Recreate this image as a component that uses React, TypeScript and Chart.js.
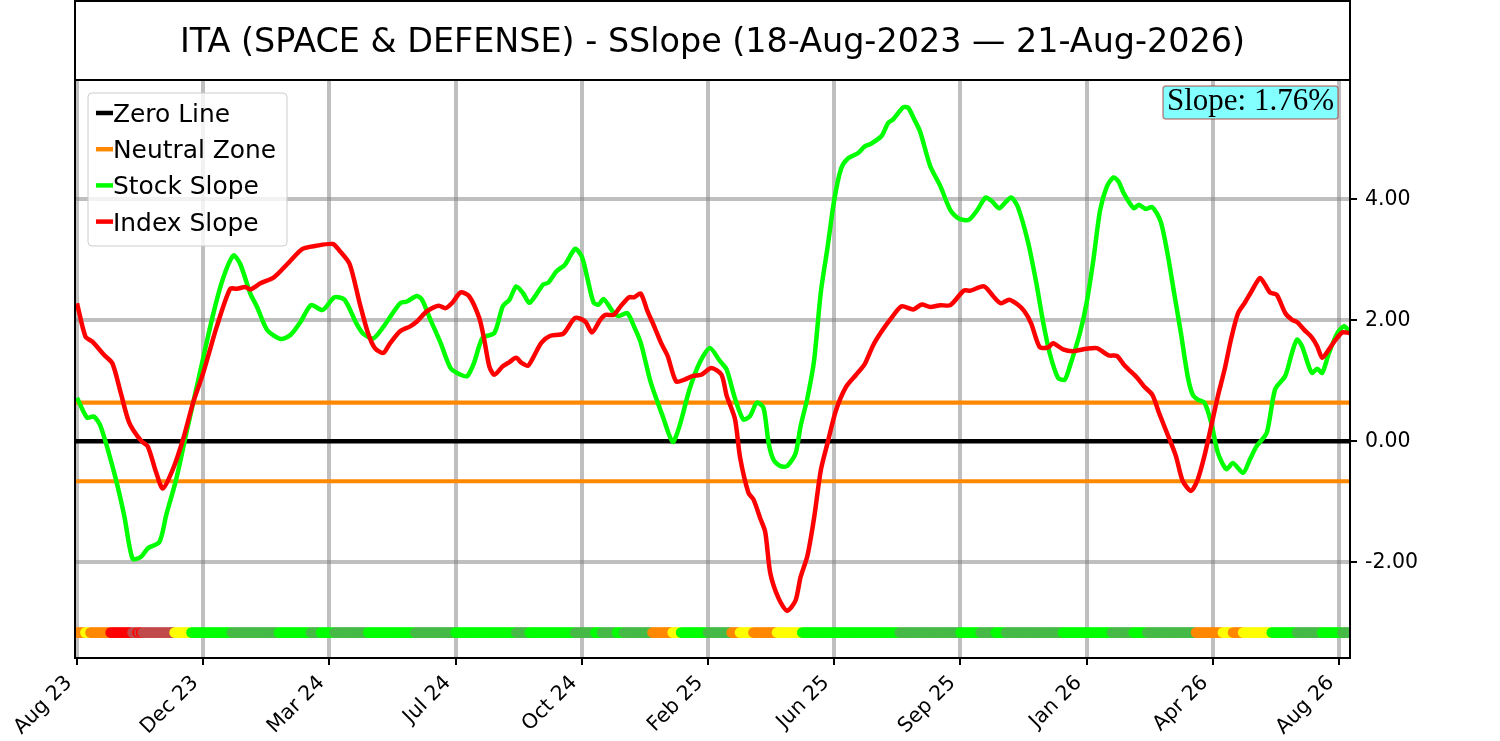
import { useEffect, useRef } from "react"
import { Chart, registerables, type ChartConfiguration, type Plugin } from "chart.js"

Chart.register(...registerables)

const TITLE = "ITA (SPACE & DEFENSE) - SSlope (18-Aug-2023 — 21-Aug-2026)"
const SLOPE_TEXT = "Slope: 1.76%"

// x axis is in trading days since 18-Aug-2023
const TICK_DAYS = [0, 75, 150, 225, 300, 375, 450, 525, 600, 675, 750]
const TICK_LABELS = ["Aug 23", "Dec 23", "Mar 24", "Jul 24", "Oct 24", "Feb 25", "Jun 25", "Sep 25", "Jan 26", "Apr 26", "Aug 26"]
const Y_TICKS = [-2, 0, 2, 4]
const LAST_DAY = 756

const NEUTRAL_HIGH = 0.64
const NEUTRAL_LOW = -0.66
const STATE_BAND_LEVEL = -3.16

const STOCK_DAYS = [
  0, 6, 10, 14, 22, 28, 33, 38, 42, 49, 53, 59, 65, 73, 81, 87, 93, 97, 103, 107, 113, 121, 127, 133, 139, 146, 153, 159,
  166, 170, 176, 182, 192, 196, 202, 205, 210, 216, 222, 228, 232, 236, 241, 248, 253, 257, 261, 265, 269, 277, 280, 285,
  290, 296, 300, 303, 307, 310, 313, 319, 322, 327, 331, 335, 341, 348, 354, 358, 364, 370, 376, 382, 386, 391, 396, 400,
  404, 408, 411, 414, 418, 422, 427, 430, 434, 438, 442, 446, 450, 454, 458, 464, 468, 472, 478, 482, 485, 491, 494, 497,
  501, 507, 513, 519, 524, 530, 535, 540, 544, 548, 555, 559, 565, 570, 574, 578, 583, 587, 590, 596, 600, 604, 608, 612,
  616, 619, 622, 628, 631, 635, 639, 644, 648, 652, 656, 660, 663, 666, 670, 674, 678, 683, 687, 693, 697, 701, 707, 712,
  718, 722, 725, 728, 732, 734, 737, 740, 744, 749, 753, 756,
]
const STOCK_SLOPE = [
  0.72, 0.39, 0.41, 0.25, -0.51, -1.22, -1.94, -1.91, -1.77, -1.66, -1.22, -0.62, 0.14, 1.13, 2.11, 2.71, 3.07, 2.93, 2.44,
  2.22, 1.84, 1.69, 1.76, 1.98, 2.25, 2.17, 2.38, 2.34, 1.95, 1.78, 1.7, 1.89, 2.28, 2.31, 2.4, 2.34, 2.01, 1.63, 1.21, 1.1,
  1.08, 1.3, 1.71, 1.79, 2.23, 2.34, 2.56, 2.45, 2.29, 2.59, 2.62, 2.81, 2.92, 3.18, 3.05, 2.73, 2.29, 2.26, 2.35, 2.12, 2.07,
  2.12, 1.9, 1.63, 0.97, 0.42, -0.01, 0.25, 0.86, 1.3, 1.54, 1.33, 1.19, 0.71, 0.36, 0.42, 0.64, 0.55, -0.03, -0.31, -0.41,
  -0.41, -0.2, 0.25, 0.71, 1.33, 2.46, 3.2, 3.99, 4.5, 4.67, 4.76, 4.87, 4.92, 5.04, 5.26, 5.32, 5.52, 5.51, 5.35, 5.12, 4.55,
  4.22, 3.82, 3.68, 3.66, 3.82, 4.03, 3.96, 3.85, 4.03, 3.88, 3.31, 2.63, 1.99, 1.46, 1.05, 1.02, 1.24, 1.79, 2.29, 3.0, 3.82,
  4.21, 4.36, 4.29, 4.1, 3.85, 3.91, 3.84, 3.87, 3.63, 3.11, 2.45, 1.79, 1.08, 0.77, 0.69, 0.64, 0.31, -0.19, -0.46, -0.36,
  -0.52, -0.3, -0.08, 0.14, 0.86, 1.08, 1.46, 1.68, 1.57, 1.24, 1.13, 1.2, 1.13, 1.46, 1.79, 1.9, 1.82,
]

const INDEX_DAYS = [
  0, 5, 9, 16, 21, 26, 31, 38, 42, 47, 51, 57, 63, 69, 75, 83, 91, 95, 100, 103, 109, 117, 125, 134, 142, 152, 156, 162,
  168, 173, 177, 182, 186, 192, 198, 202, 208, 215, 219, 223, 228, 233, 239, 242, 245, 248, 253, 257, 261, 264, 268, 271,
  276, 281, 289, 296, 302, 306, 311, 314, 319, 323, 328, 331, 335, 339, 343, 347, 351, 356, 361, 366, 371, 377, 383, 386,
  391, 394, 399, 402, 406, 409, 412, 417, 422, 427, 430, 434, 438, 442, 446, 451, 457, 463, 468, 473, 478, 484, 490, 497,
  502, 507, 513, 519, 527, 531, 539, 545, 549, 554, 559, 563, 567, 572, 577, 580, 586, 592, 600, 606, 613, 618, 622, 626,
  630, 634, 639, 643, 648, 653, 657, 662, 666, 670, 674, 678, 682, 686, 690, 694, 698, 703, 706, 709, 713, 718, 722, 725,
  729, 734, 737, 740, 744, 748, 752, 756,
]
const INDEX_SLOPE = [
  2.28, 1.73, 1.65, 1.43, 1.29, 0.8, 0.31, 0.01, -0.08, -0.51, -0.78, -0.46, 0.03, 0.64, 1.13, 1.89, 2.52, 2.52, 2.55, 2.51,
  2.61, 2.71, 2.93, 3.18, 3.23, 3.26, 3.15, 2.93, 2.28, 1.78, 1.54, 1.46, 1.62, 1.82, 1.9, 1.98, 2.15, 2.24, 2.2, 2.29, 2.46,
  2.4, 2.04, 1.68, 1.24, 1.1, 1.24, 1.31, 1.38, 1.3, 1.25, 1.38, 1.63, 1.74, 1.78, 2.04, 1.98, 1.8, 2.01, 2.09, 2.09, 2.23,
  2.38, 2.38, 2.44, 2.15, 1.9, 1.63, 1.41, 0.99, 1.02, 1.08, 1.1, 1.21, 1.1, 0.76, 0.37, -0.26, -0.85, -0.96, -1.27, -1.5,
  -2.18, -2.6, -2.8, -2.63, -2.24, -1.9, -1.27, -0.48, -0.03, 0.51, 0.9, 1.1, 1.27, 1.58, 1.81, 2.04, 2.23, 2.18, 2.26, 2.22,
  2.25, 2.25, 2.49, 2.49, 2.56, 2.38, 2.28, 2.34, 2.26, 2.15, 1.95, 1.56, 1.55, 1.62, 1.52, 1.49, 1.53, 1.54, 1.42, 1.41,
  1.27, 1.16, 1.05, 0.91, 0.77, 0.47, 0.12, -0.24, -0.65, -0.82, -0.63, -0.24, 0.25, 0.75, 1.19, 1.71, 2.12, 2.29, 2.48, 2.7,
  2.59, 2.46, 2.42, 2.12, 2.01, 1.97, 1.85, 1.71, 1.57, 1.38, 1.52, 1.68, 1.8, 1.79,
]

// state band along the bottom: the day each colour run starts, and its colour
const STATE_START_DAYS = [
  0, 5, 8, 20, 33, 36, 37, 38, 39, 58, 68, 92, 120, 139, 145, 153, 173, 201, 225, 261, 269, 296, 308, 312, 321, 325, 342,
  354, 359, 375, 389, 394, 402, 416, 431, 489, 525, 537, 546, 552, 586, 615, 628, 636, 665, 681, 687, 693, 710, 725, 740,
  752,
]
const STATE_COLORS = [
  "orange", "yellow", "orange", "red", "darkred", "red", "darkred", "red", "darkred", "yellow", "lime", "green", "lime",
  "green", "lime", "green", "lime", "green", "lime", "green", "lime", "green", "lime", "green", "lime", "green", "orange",
  "yellow", "lime", "green", "orange", "yellow", "orange", "yellow", "lime", "green", "lime", "green", "lime", "green",
  "lime", "green", "lime", "green", "orange", "yellow", "orange", "yellow", "lime", "green", "lime", "green",
]

const PALETTE: Record<string, string> = {
  orange: "#ff8800",
  yellow: "#ffff00",
  red: "#ff0000",
  darkred: "#c24a4a",
  lime: "#00ff00",
  green: "#46b946",
}

const stateColorFor = (day: number) => {
  let key = STATE_COLORS[0]
  for (let i = 0; i < STATE_START_DAYS.length; i++) {
    if (STATE_START_DAYS[i] <= day) key = STATE_COLORS[i]
  }
  return PALETTE[key]
}

const stateDays: number[] = []
for (let d = 0; d <= LAST_DAY; d++) stateDays.push(d)

const FONT = "'DejaVu Sans', sans-serif"

const LEGEND_ITEMS: [string, string][] = [
  ["Zero Line", "#000000"],
  ["Neutral Zone", PALETTE.orange],
  ["Stock Slope", "#00ff00"],
  ["Index Slope", "#ff0000"],
]

const decorPlugin: Plugin = {
  id: "decor",
  afterDraw(chart) {
    const { ctx, chartArea } = chart
    const { left, right, top, bottom } = chartArea
    ctx.save()

    // title box
    ctx.strokeStyle = "#000"
    ctx.lineWidth = 2
    ctx.strokeRect(left, 1, right - left, top - 1)
    ctx.fillStyle = "#000"
    ctx.font = `33.4px ${FONT}`
    ctx.textAlign = "center"
    ctx.textBaseline = "alphabetic"
    ctx.fillText(TITLE, (left + right) / 2, 52)

    // axes frame
    ctx.strokeRect(left, top, right - left, bottom - top)

    // legend
    ctx.beginPath()
    ctx.roundRect(88, 93, 199, 153, 4)
    ctx.fillStyle = "rgba(255,255,255,0.8)"
    ctx.fill()
    ctx.strokeStyle = "#cccccc"
    ctx.lineWidth = 1
    ctx.stroke()
    ctx.font = `24.9px ${FONT}`
    ctx.textAlign = "left"
    LEGEND_ITEMS.forEach(([label, color], i) => {
      const base = 122 + i * 36.2
      ctx.strokeStyle = color
      ctx.lineWidth = 4.5
      ctx.beginPath()
      ctx.moveTo(96, base - 9)
      ctx.lineTo(113, base - 9)
      ctx.stroke()
      ctx.fillStyle = "#000"
      ctx.fillText(label, 113, base)
    })

    // slope annotation
    ctx.beginPath()
    ctx.roundRect(1163, 86, 175, 33, 3)
    ctx.fillStyle = "#84ffff"
    ctx.fill()
    ctx.strokeStyle = "rgba(165,42,42,0.55)"
    ctx.lineWidth = 1.5
    ctx.stroke()
    ctx.fillStyle = "#000"
    ctx.font = "31px 'Liberation Serif', serif"
    ctx.fillText(SLOPE_TEXT, 1167, 110)

    ctx.restore()
  },
}

const lineStyle = { pointRadius: 0, borderJoinStyle: "round" as const, tension: 0.25 }

export default function App() {
  const canvasRef = useRef<HTMLCanvasElement>(null)

  useEffect(() => {
    const canvas = canvasRef.current
    if (!canvas) return

    const config: ChartConfiguration = {
      type: "line",
      data: {
        datasets: [
          {
            label: "Index Slope",
            data: INDEX_DAYS.map((d, i) => ({ x: d, y: INDEX_SLOPE[i] })),
            borderColor: "#ff0000",
            borderWidth: 4.5,
            ...lineStyle,
          },
          {
            label: "Stock Slope",
            data: STOCK_DAYS.map((d, i) => ({ x: d, y: STOCK_SLOPE[i] })),
            borderColor: "#00ff00",
            borderWidth: 4.5,
            ...lineStyle,
          },
          {
            label: "Zero Line",
            data: [{ x: -5, y: 0 }, { x: LAST_DAY + 5, y: 0 }],
            borderColor: "#000000",
            borderWidth: 4.5,
            pointRadius: 0,
          },
          {
            label: "Neutral Zone",
            data: [{ x: -5, y: NEUTRAL_HIGH }, { x: LAST_DAY + 5, y: NEUTRAL_HIGH }],
            borderColor: PALETTE.orange,
            borderWidth: 4.2,
            pointRadius: 0,
          },
          {
            label: "",
            data: [{ x: -5, y: NEUTRAL_LOW }, { x: LAST_DAY + 5, y: NEUTRAL_LOW }],
            borderColor: PALETTE.orange,
            borderWidth: 4.2,
            pointRadius: 0,
          },
          {
            label: "State",
            data: stateDays.map((d) => ({ x: d, y: STATE_BAND_LEVEL })),
            showLine: false,
            pointRadius: 5.3,
            pointBorderWidth: 0,
            pointBackgroundColor: stateDays.map(stateColorFor),
          },
        ],
      },
      options: {
        responsive: false,
        animation: false,
        devicePixelRatio: 1,
        layout: { padding: { left: 75, top: 80, right: 0, bottom: 0 } },
        plugins: {
          legend: { display: false },
          tooltip: { enabled: false },
        },
        scales: {
          x: {
            type: "linear",
            min: -1.2,
            max: 756.5,
            afterBuildTicks: (scale) => {
              scale.ticks = TICK_DAYS.map((v) => ({ value: v }))
            },
            afterFit: (scale) => {
              scale.height = 83
            },
            grid: {
              color: "rgba(128,128,128,0.5)",
              lineWidth: 4,
              tickColor: "#000",
              tickWidth: 2,
              tickLength: 7,
            },
            border: { display: false },
            ticks: {
              autoSkip: false,
              minRotation: 45,
              maxRotation: 45,
              padding: 6,
              labelOffset: -8,
              color: "#000",
              font: { family: FONT, size: 20.5 },
              callback: (_v, i) => TICK_LABELS[i],
            },
          },
          y: {
            type: "linear",
            position: "right",
            min: -3.58,
            max: 5.97,
            afterBuildTicks: (scale) => {
              scale.ticks = Y_TICKS.map((v) => ({ value: v }))
            },
            afterFit: (scale) => {
              scale.width = 150
            },
            grid: {
              color: "rgba(128,128,128,0.5)",
              lineWidth: 4,
              tickColor: "#000",
              tickWidth: 2,
              tickLength: 7,
            },
            border: { display: false },
            ticks: {
              padding: 8,
              color: "#000",
              font: { family: FONT, size: 20.5 },
              callback: (v) => Number(v).toFixed(2),
            },
          },
        },
      },
      plugins: [decorPlugin],
    }

    const chart = new Chart(canvas, config)
    return () => chart.destroy()
  }, [])

  return (
    <div style={{ position: "fixed", left: 0, top: 0, width: 1500, height: 741, background: "#fff" }}>
      <canvas ref={canvasRef} width={1500} height={741} style={{ display: "block" }} />
    </div>
  )
}
